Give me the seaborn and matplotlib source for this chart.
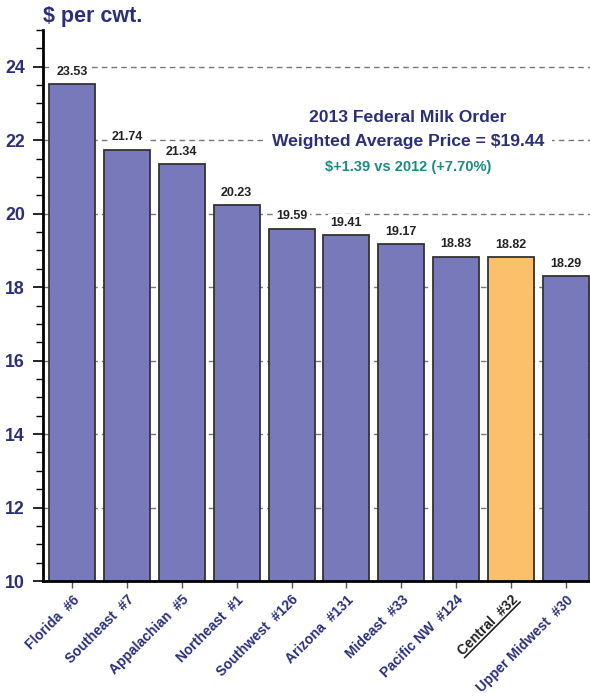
import numpy as np
import matplotlib
matplotlib.use("Agg")
import matplotlib.pyplot as plt
from matplotlib.lines import Line2D
from matplotlib.transforms import IdentityTransform
import seaborn as sns

sns.set_style("white")
plt.rcParams['font.family'] = ['Liberation Sans', 'DejaVu Sans']

# data
regions = ['Florida  #6', 'Southeast  #7', 'Appalachian  #5', 'Northeast  #1',
           'Southwest  #126', 'Arizona  #131', 'Mideast  #33', 'Pacific NW  #124',
           'Central  #32', 'Upper Midwest  #30']
prices = [23.53, 21.74, 21.34, 20.23, 19.59, 19.41, 19.17, 18.83, 18.82, 18.29]
highlight = 'Central  #32'

navy = '#2B2F7A'
purple = '#7779BB'
orange = '#FDC06A'
teal = '#1A8C7F'

colors = [orange if r == highlight else purple for r in regions]

fig = plt.figure(figsize=(5.9, 6.98), dpi=100)
ax = fig.add_axes([0.073, 0.1676, 0.927, 0.7894])

sns.barplot(x=regions, y=prices, hue=regions, palette=colors, legend=False,
            width=0.84, edgecolor='#333333', linewidth=1.3, saturation=1, ax=ax)

ax.set_ylim(10, 25)
ax.set_xlim(-0.53, 9.44)
ax.set_axisbelow(True)
ax.set_yticks(np.arange(10, 25, 2))
ax.set_yticks(np.arange(10, 25.01, 0.5), minor=True)
ax.yaxis.grid(True, which='major', color='#777777', linestyle=(0, (4, 3)), linewidth=1)
ax.xaxis.grid(False)

for s in ['top', 'right']:
    ax.spines[s].set_visible(False)
for s in ['left', 'bottom']:
    ax.spines[s].set_color('black')
    ax.spines[s].set_linewidth(2)

ax.tick_params(axis='y', which='major', direction='out', length=7, width=1.2,
               color='black', labelsize=12.8, labelcolor=navy, left=True, pad=6)
ax.tick_params(axis='y', which='minor', direction='out', length=5, width=1,
               color='black', left=True)
ax.tick_params(axis='x', direction='out', length=5, width=1, color='#555555',
               bottom=True, labelsize=10, labelcolor=navy)
for lab in ax.get_yticklabels():
    lab.set_fontweight('bold')

ax.set_xlabel('')
ax.set_ylabel('')

ax.set_xticks(range(len(regions)))
ax.set_xticklabels(regions, rotation=45, ha='right', rotation_mode='anchor',
                   fontweight='bold')
hl = ax.get_xticklabels()[regions.index(highlight)]
hl.set_color('#222222')

# value labels
for i, v in enumerate(prices):
    ax.annotate(f'{v:.2f}', (i, v), xytext=(0, 9), textcoords='offset points',
                ha='center', va='center', fontsize=9, fontweight='bold', color='#222222',
                bbox=dict(boxstyle='square,pad=0.25', fc='white', ec='none'))

# header texts
fig.text(0.073, 0.976, r'\$ per cwt.', fontsize=15.5, fontweight='bold', color=navy,
         ha='left', va='center')
ax.text(6.12, 22.61, '2013 Federal Milk Order',
        ha='center', va='center', fontsize=12.6, fontweight='bold', color=navy)
ax.text(6.12, 21.96, 'Weighted Average Price = \\$19.44',
        ha='center', va='center', fontsize=12.6, fontweight='bold', color=navy,
        bbox=dict(boxstyle='square,pad=0.45', fc='white', ec='none'))
ax.text(6.12, 21.28, r'\$+1.39 vs 2012 (+7.70%)', ha='center', va='center',
        fontsize=10.5, fontweight='bold', color=teal)

# underline the highlighted tick label
fig.canvas.draw()
r = fig.canvas.get_renderer()
tmp = fig.text(0, 0, highlight, fontsize=10, fontweight='bold')
bb = tmp.get_window_extent(r)
tmp.remove()
w, h = bb.width, bb.height
ax_pt = hl.get_transform().transform(hl.get_position())
ang = np.deg2rad(45)
u = np.array([np.cos(ang), np.sin(ang)])
d = np.array([np.sin(ang), -np.cos(ang)])
p1 = ax_pt + (h - 1) * d
p2 = p1 - w * u
fig.add_artist(Line2D([p1[0], p2[0]], [p1[1], p2[1]], color='#222222', lw=1.2,
                      transform=IdentityTransform()))

fig.savefig('out.png', dpi=100)
